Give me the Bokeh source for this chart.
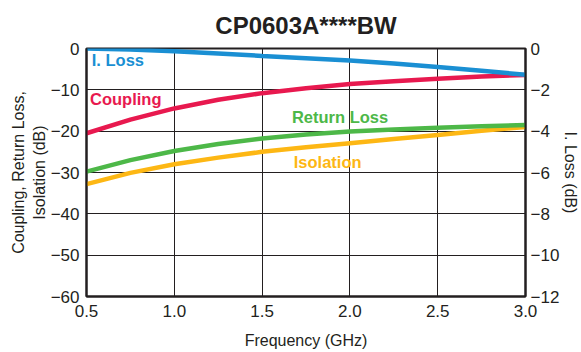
from bokeh.plotting import figure
from bokeh.models import LinearAxis, Range1d, FixedTicker, Label, NumeralTickFormatter
from bokeh.embed import file_html
from bokeh.resources import INLINE

freq = [0.5, 0.75, 1.0, 1.25, 1.5, 1.75, 2.0, 2.25, 2.5, 2.75, 3.0]
coupling = [-20.5, -17.2, -14.5, -12.4, -10.8, -9.6, -8.6, -7.9, -7.3, -6.8, -6.4]
return_loss = [-29.8, -27.0, -24.8, -23.1, -21.8, -20.8, -20.1, -19.6, -19.2, -18.8, -18.5]
isolation = [-32.8, -30.1, -28.0, -26.4, -25.0, -23.9, -22.9, -21.9, -20.9, -19.9, -19.0]
insertion_loss = [0.0, -0.05, -0.13, -0.24, -0.36, -0.47, -0.58, -0.73, -0.90, -1.08, -1.27]

x_ticks = [0.5, 1.0, 1.5, 2.0, 2.5, 3.0]
left_ticks = [0, -10, -20, -30, -40, -50, -60]
right_ticks = [0, -2, -4, -6, -8, -10, -12]

FONT = "Liberation Sans"
TXT = "#231f20"
BLUE = "#1a8fd3"
RED = "#e8194f"
GREEN = "#4db848"
ORANGE = "#fdb714"

p = figure(frame_width=439, frame_height=248, output_backend="svg", toolbar_location=None,
           x_range=Range1d(0.5, 3.0), y_range=Range1d(-60, 0),
           min_border_left=86, min_border_right=46, min_border_top=48, min_border_bottom=50,
           title="CP0603A****BW")
p.extra_y_ranges = {"iloss": Range1d(-12, 0)}

p.title.align = "center"
p.title.vertical_align = "top"
p.title.text_font = FONT
p.title.text_font_size = "24px"
p.title.text_font_style = "bold"
p.title.text_color = TXT
p.title.standoff = 15

p.outline_line_color = TXT
p.outline_line_width = 2
p.background_fill_color = "white"
p.border_fill_color = "white"

p.xaxis.ticker = FixedTicker(ticks=x_ticks)
p.xaxis.formatter = NumeralTickFormatter(format="0.0")
p.yaxis.ticker = FixedTicker(ticks=left_ticks)
p.xaxis.axis_label = "Frequency (GHz)"
p.yaxis.axis_label = "Coupling, Return Loss,\nIsolation (dB)"

right = LinearAxis(y_range_name="iloss", ticker=FixedTicker(ticks=right_ticks),
                   axis_label="I. Loss (dB)")
p.add_layout(right, "right")

for ax in p.axis:
    ax.major_label_text_font = FONT
    ax.major_label_text_font_size = "17px"
    ax.major_label_text_color = TXT
    ax.axis_label_text_font = FONT
    ax.axis_label_text_font_size = "16px"
    ax.axis_label_text_font_style = "normal"
    ax.axis_label_text_color = TXT
    ax.axis_line_color = TXT
    ax.axis_line_width = 2
    ax.major_tick_out = 0
    ax.major_tick_in = 0
    ax.minor_tick_out = 0
    ax.minor_tick_in = 0
    ax.major_label_standoff = 7
    ax.axis_label_standoff = 0

p.xaxis.major_label_standoff = 8
p.xaxis.axis_label_standoff = 12
right.axis_label_standoff = 0
right.major_label_standoff = 5

p.xgrid.ticker = FixedTicker(ticks=x_ticks)
p.ygrid.ticker = FixedTicker(ticks=left_ticks)
p.grid.grid_line_color = TXT
p.grid.grid_line_width = 1
p.grid.grid_line_alpha = 1

lw = 4.5
p.line(freq, isolation, line_color=ORANGE, line_width=lw)
p.line(freq, return_loss, line_color=GREEN, line_width=lw)
p.line(freq, coupling, line_color=RED, line_width=lw)
p.line(freq, insertion_loss, line_color=BLUE, line_width=lw, y_range_name="iloss")

def lab(x, y, t, c):
    p.add_layout(Label(x=x, y=y, text=t, text_color=c, text_font=FONT,
                       text_font_size="16.5px", text_font_style="bold",
                       text_baseline="middle", text_align="left"))

lab(0.53, -2.9, "I. Loss", BLUE)
lab(0.52, -12.3, "Coupling", RED)
lab(1.67, -16.6, "Return Loss", GREEN)
lab(1.68, -27.5, "Isolation", ORANGE)

open("out.html", "w").write(file_html(p, INLINE))
